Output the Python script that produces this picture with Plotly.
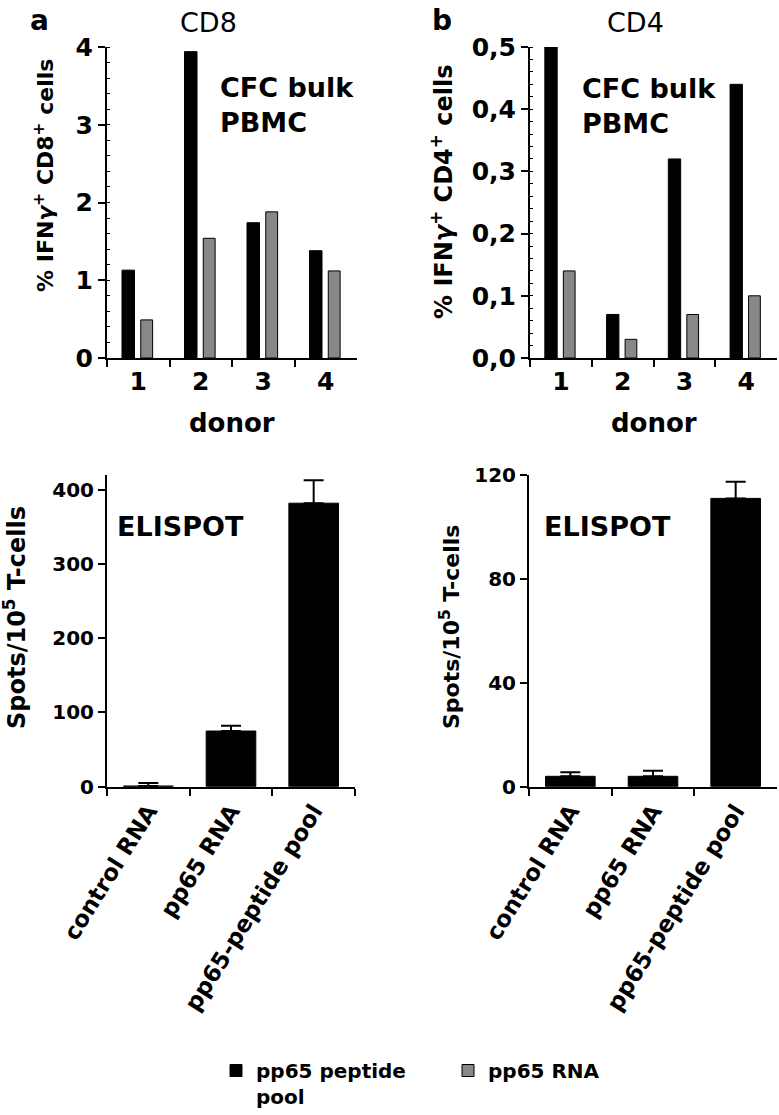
import plotly.graph_objects as go

# ---------------- data ----------------
donors = ["1", "2", "3", "4"]
cd8_peptide = [1.13, 3.94, 1.74, 1.38]
cd8_rna = [0.49, 1.54, 1.88, 1.12]
cd4_peptide = [0.50, 0.07, 0.32, 0.44]
cd4_rna = [0.14, 0.03, 0.07, 0.10]

conditions = ["control RNA", "pp65 RNA", "pp65-peptide pool"]
cd8_spots = [1, 75, 382]
cd8_spots_err = [4, 7, 31]
cd4_spots = [4, 4, 111]
cd4_spots_err = [1.6, 2.1, 6.4]

cd8_pct_ticks = [0, 1, 2, 3, 4]
cd4_pct_ticks = [0, 0.1, 0.2, 0.3, 0.4, 0.5]
cd4_pct_ticktext = ["0,0", "0,1", "0,2", "0,3", "0,4", "0,5"]
cd8_spot_ticks = [0, 100, 200, 300, 400]
cd4_spot_ticks = [0, 40, 80, 120]

series_names = ["pp65 peptide<br>pool", "pp65 RNA"]

# ---------------- layout helpers ----------------
W, H = 779, 1115
FONT = "DejaVu Sans"
BLACK = "#000000"
GRAY = "#888888"


def fx(p):
    return p / W


def fy(p):
    return 1 - p / H


fig = go.Figure()

# top panels: grouped bars with explicit offsets
for ax, pep, rna, show in [("", cd8_peptide, cd8_rna, True), ("2", cd4_peptide, cd4_rna, False)]:
    fig.add_trace(go.Bar(
        x=donors, y=pep, name=series_names[0], legendgroup="pep", showlegend=show,
        marker=dict(color=BLACK, line=dict(color=BLACK, width=1)),
        width=0.2, offset=-0.26, xaxis="x" + ax, yaxis="y" + ax,
    ))
    fig.add_trace(go.Bar(
        x=donors, y=rna, name=series_names[1], legendgroup="rna", showlegend=show,
        marker=dict(color=GRAY, line=dict(color=BLACK, width=1)),
        width=0.19, offset=0.04, xaxis="x" + ax, yaxis="y" + ax,
    ))

# bottom panels: ELISPOT bars with error bars
for ax, vals, err in [("3", cd8_spots, cd8_spots_err), ("4", cd4_spots, cd4_spots_err)]:
    fig.add_trace(go.Bar(
        x=conditions, y=vals, showlegend=False,
        marker=dict(color=BLACK, line=dict(color=BLACK, width=1)),
        width=0.6,
        error_y=dict(type="data", array=err, arrayminus=[0] * len(err), symmetric=False,
                     color=BLACK, thickness=2, width=10),
        xaxis="x" + ax, yaxis="y" + ax,
    ))

common_axis = dict(
    showline=True, linecolor=BLACK, linewidth=2, mirror=False,
    ticks="outside", ticklen=7, tickwidth=2, tickcolor=BLACK,
    showgrid=False, zeroline=False, fixedrange=True, automargin=False,
)

tickfont_top = dict(family=FONT, size=25, color=BLACK, weight="bold")
tickfont_bot = dict(family=FONT, size=20, color=BLACK, weight="bold")
tickfont_cat = dict(family=FONT, size=23, color=BLACK, weight="bold")

y_top_dom = [fy(358), fy(47)]
y_bot_dom = [fy(786.7), fy(475)]

fig.update_layout(
    width=W, height=H,
    margin=dict(l=0, r=0, t=0, b=0, autoexpand=False),
    paper_bgcolor="white", plot_bgcolor="white",
    barmode="group",
    xaxis=dict(common_axis, domain=[fx(107), fx(357)], anchor="y", type="category",
               range=[-0.5, 3.5], tickson="boundaries", tickfont=tickfont_top),
    yaxis=dict(common_axis, domain=y_top_dom, anchor="x", range=[0, 4],
               tickvals=cd8_pct_ticks, tickfont=tickfont_top,
               minor=dict(dtick=0.2, ticks="inside", ticklen=3, tickwidth=1, tickcolor=BLACK)),
    xaxis2=dict(common_axis, domain=[fx(530), fx(777)], anchor="y2", type="category",
                range=[-0.5, 3.5], tickson="boundaries", tickfont=tickfont_top),
    yaxis2=dict(common_axis, domain=y_top_dom, anchor="x2", range=[0, 0.5],
                tickvals=cd4_pct_ticks, ticktext=cd4_pct_ticktext, tickfont=tickfont_top,
                minor=dict(dtick=0.02, ticks="inside", ticklen=3, tickwidth=1, tickcolor=BLACK)),
    xaxis3=dict(common_axis, domain=[fx(107), fx(355)], anchor="y3", type="category",
                range=[-0.5, 2.5], tickson="boundaries", tickangle=-58, tickfont=tickfont_cat),
    yaxis3=dict(common_axis, domain=y_bot_dom, anchor="x3", range=[0, 420],
                tickvals=cd8_spot_ticks, tickfont=tickfont_bot),
    xaxis4=dict(common_axis, domain=[fx(529), fx(777)], anchor="y4", type="category",
                range=[-0.5, 2.5], tickson="boundaries", tickangle=-58, tickfont=tickfont_cat),
    yaxis4=dict(common_axis, domain=y_bot_dom, anchor="x4", range=[0, 120],
                tickvals=cd4_spot_ticks, tickfont=tickfont_bot),
    legend=dict(orientation="h", x=fx(216), y=fy(1051), xanchor="left", yanchor="top",
                valign="top", entrywidth=187,
                font=dict(family=FONT, size=20, color=BLACK, weight="bold"),
                bgcolor="rgba(0,0,0,0)", traceorder="normal"),
    showlegend=True,
)


def ann(text, xp, yp, size, bold=True, xanchor="center", yanchor="middle", angle=0, align="center"):
    fig.add_annotation(
        text=text, x=fx(xp), y=fy(yp), xref="paper", yref="paper",
        xanchor=xanchor, yanchor=yanchor, textangle=angle, showarrow=False, align=align,
        font=dict(family=FONT, size=size, color=BLACK, weight="bold" if bold else "normal"),
    )


# panel letters and titles
ann("a", 28, 20, 28, xanchor="left")
ann("b", 430, 20, 28, xanchor="left")
ann("CD8", 208, 22, 27, bold=False)
ann("CD4", 635, 22, 27, bold=False)

# axis titles
ann("% IFN<i>γ</i><sup>+</sup> CD8<sup>+</sup> cells", 44, 176, 22, angle=-90)
ann("% IFN<i>γ</i><sup>+</sup> CD4<sup>+</sup> cells", 442, 192, 24, angle=-90)
ann("Spots/10<sup>5</sup> T-cells", 15, 618, 24, angle=-90)
ann("Spots/10<sup>5</sup> T-cells", 450, 627, 22, angle=-90)
ann("donor", 232, 423, 26)
ann("donor", 654, 423, 26)

# in-panel labels
ann("CFC bulk<br>PBMC", 218, 70, 27, xanchor="left", yanchor="top", align="left")
ann("CFC bulk<br>PBMC", 580, 71, 27, xanchor="left", yanchor="top", align="left")
ann("ELISPOT", 115, 509, 27, xanchor="left", yanchor="top")
ann("ELISPOT", 542, 509, 27, xanchor="left", yanchor="top")

fig.write_html(
    "out.html",
    config={"displayModeBar": False},
    post_script="document.body.style.margin='0';document.body.style.overflow='hidden';",
)
